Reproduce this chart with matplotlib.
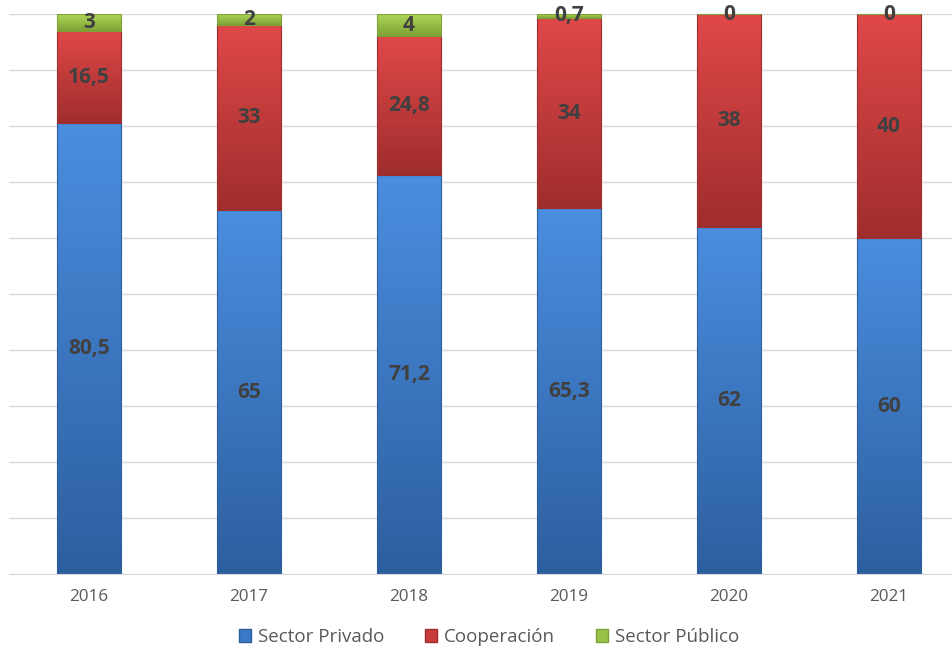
import matplotlib
matplotlib.use('Agg')
import matplotlib.pyplot as plt
import numpy as np
from matplotlib.colors import LinearSegmentedColormap
from matplotlib.patches import Patch

years = ['2016', '2017', '2018', '2019', '2020', '2021']
privado = [80.5, 65, 71.2, 65.3, 62, 60]
cooperacion = [16.5, 33, 24.8, 34, 38, 40]
publico = [3, 2, 4, 0.7, 0, 0]

series = [('Sector Privado', privado, '#4a8ee0', '#2d5f9f', '#3a78c8'),
          ('Cooperación', cooperacion, '#e04848', '#a02d2d', '#c83b3b'),
          ('Sector Público', publico, '#b0d85a', '#7ea236', '#98c248')]

def fmt(v):
    return ('%g' % v).replace('.', ',')

plt.rcParams['font.family'] = ['Open Sans', 'DejaVu Sans']

fig = plt.figure(figsize=(9.53, 6.49), dpi=100)
ax = fig.add_axes([9/953, 75/649, 960/953, 560/649])

x = np.arange(len(years))
bottom = np.zeros(len(years))
grad = np.linspace(1, 0, 256).reshape(-1, 1)
for name, vals, top_c, bot_c, mid_c in series:
    vals = np.array(vals, dtype=float)
    bars = ax.bar(x, vals, 0.4, bottom=bottom, color='none',
                  edgecolor=bot_c, linewidth=0.8, zorder=3)
    cmap = LinearSegmentedColormap.from_list(name, [bot_c, top_c])
    for b, v, b0, xi in zip(bars, vals, bottom, x):
        if v > 0:
            x0, y0 = b.get_x(), b.get_y()
            im = ax.imshow(grad, cmap=cmap, aspect='auto', zorder=2,
                           extent=[x0, x0 + b.get_width(), y0, y0 + v])
            im.set_clip_path(b)
        ax.text(xi, b0 + v / 2, fmt(v), ha='center', va='center',
                fontsize=15, fontweight='bold', color='#404040', zorder=5)
    bottom += vals

ax.set_xlim(-0.5, len(years) - 0.5)
ax.set_ylim(0, 100)
ax.set_yticks(np.arange(0, 101, 10))
ax.set_yticklabels([])
ax.tick_params(axis='y', length=0)
ax.tick_params(axis='x', length=0, labelsize=12.3, labelcolor='#595959', pad=11)
ax.set_xticks(x)
ax.set_xticklabels(years)
ax.grid(axis='y', color='#d9d9d9', linewidth=1, zorder=0)
ax.set_axisbelow(True)
for s in ['top', 'right', 'left']:
    ax.spines[s].set_visible(False)
ax.spines['bottom'].set_color('#d9d9d9')

handles = [Patch(facecolor=mid, edgecolor=bot, label=name)
           for name, _, top, bot, mid in series]
ax.legend(handles=handles, loc='center', bbox_to_anchor=(0.5, -0.1125),
          ncol=3, frameon=False, fontsize=13.5, labelcolor='#595959',
          handlelength=0.65, handleheight=0.65, handletextpad=0.35,
          columnspacing=2.2, borderpad=0)

plt.savefig('out.png', dpi=100)
